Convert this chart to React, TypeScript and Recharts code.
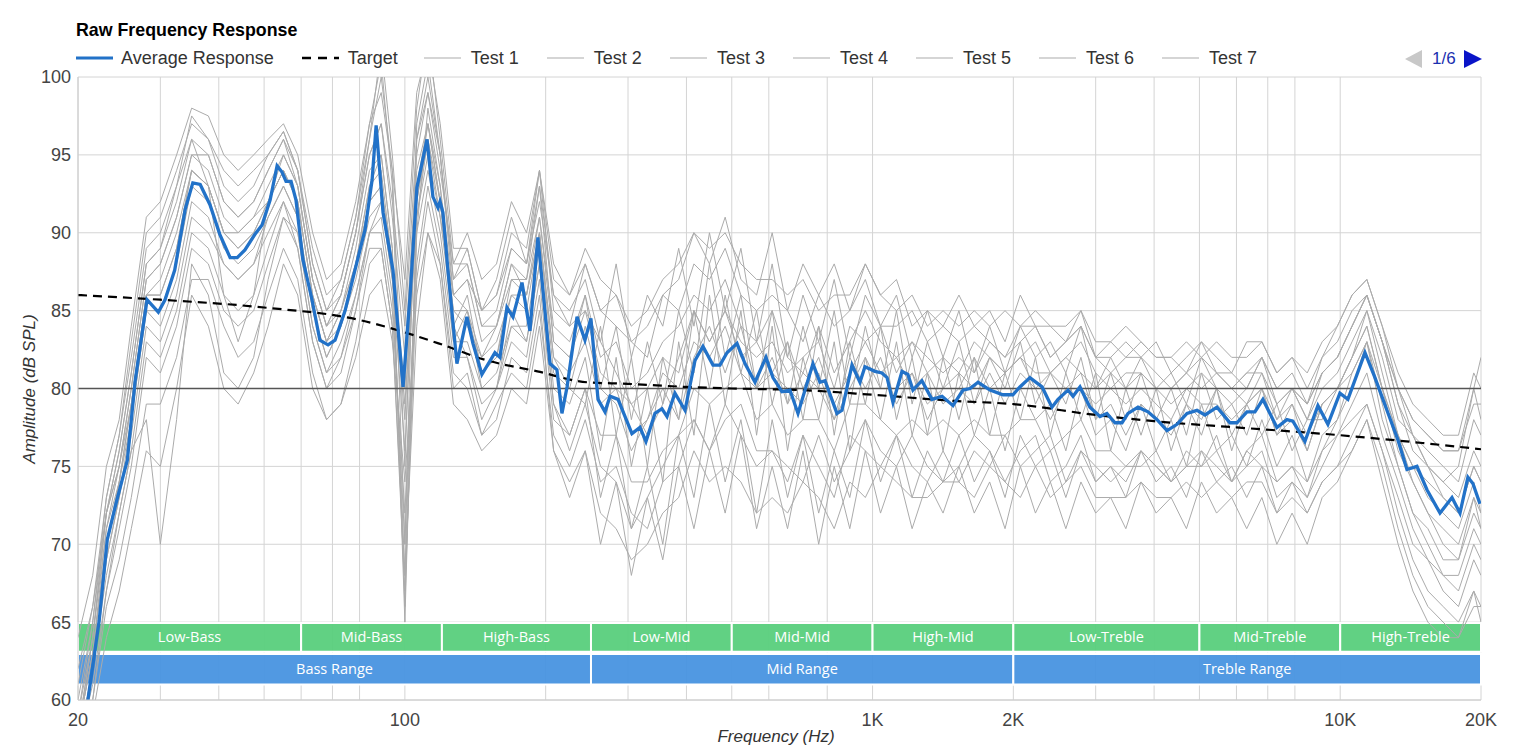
import React from "react";
import { LineChart, Line, XAxis, YAxis, CartesianGrid, ReferenceLine, ReferenceArea } from "recharts";

// shared frequency grid for the individual test runs (Hz)
const FREQS = [
  20, 21.5, 23, 24.5, 26, 28, 30, 32.5, 35, 38, 41, 44,
  47.5, 51, 55, 59, 63.5, 68, 73, 78.5, 84, 89, 94, 100,
  106, 112, 119, 127, 136, 146, 157, 169, 182, 194, 208, 225,
  243, 262, 283, 305, 330, 356, 385, 415, 448, 484, 523, 565,
  610, 658, 710, 767, 828, 894, 965, 1040, 1125, 1215, 1310, 1415,
  1530, 1650, 1780, 1920, 2070, 2230, 2400, 2590, 2790, 3000, 3230, 3480,
  3750, 4040, 4350, 4690, 5050, 5440, 5860, 6310, 6800, 7320, 7890, 8500,
  9150, 9860, 10600, 11400, 12300, 13300, 14300, 15400, 16600, 17900, 19300, 20000,
];

const TEST_1 = [
  59, 65, 73, 77, 82, 89, 90, 93, 97.5, 96, 93, 92,
  93, 95, 96.5, 94, 88, 85, 86, 90, 95, 97, 92, 84,
  96, 99, 95, 87, 88, 84, 84, 88, 86, 91, 84, 83,
  86, 82, 83, 80, 81, 83, 84, 86, 85, 87, 84, 83,
  85, 82, 81, 84, 81, 83, 85, 83, 82, 83, 81, 82,
  81, 83, 82, 81, 82, 83, 81, 82, 83, 81, 80, 81,
  81, 80, 79, 80, 81, 80, 79, 80, 82, 79, 80, 78,
  80, 81, 83, 85, 82, 78, 77, 75, 74, 73, 76, 75,
];
const TEST_2 = [
  56, 60, 66, 69, 73, 79, 79, 82, 87, 87, 84, 82,
  83, 86, 89, 87, 81, 78, 79, 82, 86, 87, 83, 74,
  86, 90, 88, 80, 81, 77, 79, 81, 80, 85, 77, 75,
  78, 74, 75, 72, 71, 74, 75, 78, 76, 78, 79, 76,
  76, 75, 74, 77, 74, 76, 78, 76, 75, 77, 75, 74,
  75, 77, 76, 74, 76, 77, 74, 75, 77, 74, 75, 74,
  76, 75, 74, 75, 76, 75, 74, 76, 75, 74, 75, 73,
  75, 77, 78, 79, 76, 73, 70, 69, 67, 66, 69, 68,
];
const TEST_3 = [
  58, 63, 70, 74, 79, 86, 86, 89, 94, 93, 90, 89,
  90, 92, 94, 92, 86, 83, 85, 88, 93, 94, 88, 78,
  93, 97, 92, 85, 84, 82, 83, 86, 85, 90, 82, 80,
  84, 80, 79, 76, 78, 80, 78, 82, 84, 81, 84, 80,
  82, 79, 81, 80, 78, 82, 80, 82, 79, 81, 78, 80,
  80, 79, 81, 79, 81, 80, 78, 80, 81, 78, 79, 77,
  79, 78, 77, 79, 78, 80, 77, 79, 80, 77, 78, 76,
  79, 80, 81, 83, 80, 77, 75, 73, 72, 71, 74, 72,
];
const TEST_4 = [
  58, 64, 72, 75, 80, 87, 88, 91, 95, 94, 91, 90,
  91, 93, 95, 93, 87, 84, 85, 89, 94, 95, 89, 66,
  90, 98, 93, 83, 85, 80, 80, 84, 83, 88, 79, 76,
  79, 75, 74, 71, 73, 75, 77, 78, 76, 79, 77, 75,
  76, 74, 77, 75, 73, 77, 76, 75, 77, 75, 74, 76,
  74, 76, 75, 77, 75, 76, 77, 74, 76, 75, 74, 75,
  75, 76, 74, 76, 75, 77, 74, 76, 77, 74, 75, 74,
  76, 78, 80, 83, 79, 75, 72, 70, 68, 68, 71, 70,
];
const TEST_5 = [
  57, 61, 67, 72, 76, 78, 70, 78, 88, 86, 81, 80,
  82, 87, 91, 90, 84, 81, 82, 85, 90, 92, 87, 79,
  91, 95, 91, 86, 87, 85, 86, 89, 88, 93, 86, 84,
  88, 85, 84, 83, 82, 86, 85, 88, 87, 89, 86, 85,
  86, 85, 83, 86, 84, 85, 87, 84, 84, 85, 83, 84,
  83, 84, 83, 82, 84, 84, 82, 83, 84, 82, 81, 82,
  82, 81, 80, 81, 82, 81, 80, 81, 82, 80, 80, 79,
  81, 82, 84, 86, 83, 79, 77, 76, 75, 74, 78, 77,
];
const TEST_6 = [
  64, 68, 75, 78, 84, 91, 92, 95, 98, 97.5, 95, 94,
  95, 96, 97, 95, 90, 87, 88, 92, 97, 99, 94, 87,
  99, 102, 97, 89, 89, 85, 86, 90, 89, 94, 85, 84,
  85, 83, 81, 79, 80, 82, 81, 85, 83, 85, 83, 82,
  83, 81, 82, 83, 80, 84, 83, 84, 81, 83, 82, 81,
  82, 81, 83, 82, 83, 84, 82, 83, 84, 82, 82, 83,
  82, 83, 81, 82, 83, 82, 81, 83, 83, 81, 82, 80,
  82, 83, 85, 86, 83, 80, 78, 77, 76, 76, 79, 79,
];
const TEST_7 = [
  57, 62, 68, 72, 76, 83, 82, 85, 90, 89, 86, 85,
  86, 89, 92, 89, 83, 80, 82, 86, 90, 90, 85, 72,
  88, 93, 89, 82, 82, 78, 80, 83, 82, 87, 78, 77,
  80, 77, 77, 74, 74, 76, 77, 80, 79, 80, 81, 78,
  79, 77, 78, 78, 76, 79, 79, 78, 77, 78, 77, 78,
  77, 78, 77, 77, 78, 78, 76, 77, 78, 76, 76, 75,
  76, 75, 74, 75, 75, 76, 74, 75, 76, 73, 74, 72,
  74, 75, 77, 79, 76, 72, 69, 67, 66, 65, 67, 66,
];
const TEST_8 = [
  58, 64, 71, 74, 78, 85, 85, 88, 93, 92, 89, 88,
  89, 91, 93, 91, 85, 82, 84, 87, 91, 92, 87, 76,
  92, 96, 91, 84, 86, 81, 82, 87, 87, 91, 83, 82,
  85, 81, 80, 79, 77, 79, 82, 85, 83, 85, 82, 83,
  81, 83, 80, 82, 79, 81, 83, 81, 82, 80, 81, 79,
  80, 82, 80, 81, 82, 80, 81, 80, 80, 79, 80, 79,
  80, 79, 78, 80, 79, 79, 78, 79, 80, 78, 79, 77,
  79, 80, 82, 84, 80, 77, 75, 74, 73, 72, 75, 74,
];
const TEST_9 = [
  56, 59, 64, 67, 71, 76, 75, 80, 86, 84, 80, 79,
  81, 84, 88, 86, 80, 78, 79, 83, 88, 89, 84, 68,
  84, 90, 87, 79, 78, 76, 77, 80, 79, 84, 76, 73,
  76, 72, 71, 69, 70, 72, 73, 76, 74, 75, 74, 72,
  73, 72, 74, 73, 71, 74, 73, 75, 74, 73, 73, 74,
  74, 73, 75, 74, 73, 75, 73, 74, 75, 73, 73, 73,
  74, 73, 73, 74, 73, 74, 73, 74, 74, 72, 73, 72,
  74, 75, 76, 78, 75, 71, 68, 66, 65, 64, 66, 66,
];
const TEST_10 = [
  62, 66, 72, 75, 80, 87, 88, 91, 95, 95, 92, 91,
  92, 94, 96, 93, 87, 84, 86, 90, 95, 97, 91, 82,
  95, 99, 94, 88, 90, 87, 88, 92, 90, 94, 88, 86,
  89, 87, 86, 84, 85, 87, 88, 90, 89, 90, 88, 87,
  87, 86, 87, 85, 86, 86, 88, 86, 85, 86, 84, 85,
  84, 85, 84, 85, 84, 85, 84, 84, 85, 83, 83, 84,
  83, 82, 82, 83, 82, 83, 82, 82, 83, 81, 82, 81,
  83, 84, 86, 87, 84, 81, 79, 78, 77, 77, 81, 80,
];
const TEST_11 = [
  57, 62, 69, 73, 77, 84, 83, 86, 91, 90, 88, 87,
  88, 90, 92, 90, 84, 81, 83, 86, 90, 91, 86, 70,
  90, 94, 90, 83, 83, 80, 81, 84, 84, 89, 80, 79,
  82, 76, 82, 75, 80, 74, 83, 77, 86, 79, 85, 77,
  84, 76, 82, 78, 83, 76, 82, 78, 83, 77, 81, 76,
  81, 77, 80, 76, 80, 78, 79, 76, 80, 77, 78, 76,
  79, 76, 78, 75, 79, 76, 77, 75, 78, 75, 77, 74,
  77, 78, 81, 83, 78, 75, 72, 71, 69, 69, 72, 71,
];
const TEST_12 = [
  58, 63, 71, 75, 79, 86, 87, 90, 94, 93, 90, 90,
  91, 92, 94, 92, 86, 83, 85, 88, 92, 93, 88, 80,
  94, 97, 93, 86, 85, 82, 84, 87, 86, 90, 82, 81,
  83, 79, 80, 77, 78, 81, 80, 83, 82, 84, 81, 80,
  81, 80, 79, 81, 78, 80, 82, 80, 80, 81, 79, 80,
  81, 80, 82, 81, 82, 81, 81, 82, 81, 80, 81, 80,
  81, 80, 80, 81, 80, 81, 80, 81, 81, 79, 80, 79,
  81, 82, 84, 86, 83, 79, 76, 75, 74, 75, 80, 78,
];
const TEST_13 = [
  60, 65, 72, 76, 81, 88, 89, 92, 96, 95, 92, 91,
  92, 94, 96, 94, 88, 85, 87, 91, 97, 101, 93, 70,
  97, 101, 95, 86, 87, 83, 84, 88, 87, 93, 83, 82,
  86, 80, 84, 78, 83, 79, 85, 81, 88, 82, 86, 80,
  85, 79, 84, 80, 85, 79, 84, 80, 85, 79, 83, 80,
  83, 79, 82, 80, 83, 79, 81, 79, 82, 78, 81, 78,
  81, 78, 80, 77, 81, 78, 79, 77, 80, 77, 79, 76,
  79, 80, 82, 85, 81, 77, 74, 72, 70, 69, 73, 71,
];
const TEST_14 = [
  57, 62, 69, 73, 78, 85, 84, 87, 92, 91, 88, 87,
  88, 91, 93, 91, 85, 82, 84, 88, 93, 95, 89, 65,
  92, 97, 92, 84, 82, 79, 80, 85, 83, 88, 79, 77,
  80, 73, 77, 71, 75, 70, 77, 73, 79, 74, 78, 72,
  78, 73, 77, 72, 76, 73, 78, 74, 77, 73, 76, 74,
  77, 74, 76, 73, 77, 75, 76, 73, 76, 74, 75, 73,
  76, 74, 75, 73, 76, 74, 75, 73, 75, 72, 74, 73,
  76, 77, 79, 81, 77, 74, 71, 69, 68, 67, 70, 69,
];
const TEST_15 = [
  59, 64, 72, 76, 81, 88, 89, 93, 96, 93, 86, 83,
  86, 92, 95, 93, 87, 84, 86, 90, 96, 100, 94, 75,
  96, 100, 95, 87, 89, 85, 87, 91, 88, 92, 86, 85,
  87, 83, 88, 82, 86, 84, 89, 84, 90, 85, 89, 83,
  88, 82, 86, 83, 87, 82, 86, 84, 86, 82, 85, 82,
  85, 81, 84, 81, 84, 82, 83, 81, 84, 80, 82, 80,
  82, 80, 81, 79, 82, 80, 80, 79, 81, 78, 80, 78,
  81, 82, 84, 86, 83, 80, 77, 75, 73, 72, 75, 74,
];
const TEST_16 = [
  58, 63, 70, 74, 79, 86, 86, 89, 94, 93, 90, 89,
  90, 92, 94, 92, 86, 83, 84, 88, 92, 93, 88, 68,
  91, 96, 92, 85, 85, 81, 82, 86, 86, 90, 81, 80,
  79, 84, 77, 82, 75, 82, 78, 85, 80, 86, 81, 85,
  79, 83, 78, 84, 77, 83, 79, 84, 78, 82, 77, 82,
  78, 82, 77, 81, 78, 82, 77, 81, 78, 81, 76, 80,
  77, 80, 76, 79, 77, 80, 76, 79, 77, 79, 76, 78,
  78, 80, 82, 84, 80, 76, 74, 72, 71, 70, 73, 72,
];
const TEST_17 = [
  56, 60, 67, 71, 75, 82, 81, 84, 89, 88, 85, 84,
  85, 88, 91, 89, 83, 80, 81, 85, 89, 89, 84, 67,
  87, 92, 88, 81, 80, 77, 78, 82, 81, 86, 76, 74,
  76, 70, 74, 68, 73, 69, 75, 71, 76, 72, 77, 71,
  75, 71, 76, 70, 75, 71, 76, 72, 75, 71, 74, 72,
  75, 72, 74, 71, 75, 72, 74, 71, 74, 72, 73, 71,
  74, 72, 73, 71, 74, 72, 73, 71, 73, 70, 72, 70,
  73, 74, 76, 78, 74, 70, 67, 65, 64, 64, 67, 65,
];
const TEST_18 = [
  61, 66, 73, 77, 83, 90, 91, 94, 97, 96, 94, 93,
  94, 95, 96.5, 94, 89, 86, 87, 91, 96, 102, 95, 85,
  98, 103, 96, 88, 88, 84, 85, 89, 88, 94, 87, 86,
  88, 85, 86, 83, 84, 86, 87, 90, 88, 91, 87, 86,
  90, 85, 88, 86, 88, 85, 88, 86, 87, 84, 85, 84,
  86, 84, 85, 83, 86, 84, 84, 83, 85, 82, 83, 82,
  83, 82, 82, 81, 83, 81, 81, 80, 82, 80, 81, 79,
  82, 84, 86, 87, 84, 80, 78, 77, 76, 76, 80, 82,
];
const TESTS = [
  TEST_1, TEST_2, TEST_3, TEST_4, TEST_5, TEST_6, TEST_7, TEST_8, TEST_9,
  TEST_10, TEST_11, TEST_12, TEST_13, TEST_14, TEST_15, TEST_16, TEST_17, TEST_18,
];

// average response, read point by point
const AVG_FREQS = [
  20, 21, 22.2, 23.1, 24.2, 25.5, 26.5, 28.1, 29.7, 30.7, 32.2, 33.9, 35.2, 36.5, 38.3, 40.2, 42.3, 43.8, 45.5, 47.8,
  49.5, 51.5, 53.3, 54.6, 55.7, 57.1, 58.5, 60.5, 63.3, 65.8, 68.5, 70.9, 74.5, 78.2, 82.2, 85.1, 86.8, 89.8, 94.3, 99.1,
  102.6, 106.1, 111.5, 114.8, 117.7, 118.9, 120.6, 123.6, 129.2, 135.7, 139.8, 146.1, 155.8, 159.7, 165.3, 170.2, 178, 185.1, 192.5, 204.3,
  211.4, 216.7, 222.2, 233.4, 242.7, 249.9, 258.8, 267.9, 274.6, 285.6, 305.9, 318.2, 327.7, 342.6, 354.6, 363.5, 378, 397.2, 417.2, 433.9,
  455.9, 471.8, 488.4, 513, 533.6, 560.6, 591.6, 612.4, 640.1, 665.8, 692.8, 745.7, 771.8, 791.2, 839.3, 860.2, 903.6, 939.8, 963.3, 1012,
  1047, 1074, 1106, 1156, 1190, 1220, 1275, 1340, 1408, 1486, 1561, 1616, 1681, 1783, 1900, 1996, 2066, 2170, 2304, 2419,
  2492, 2618, 2683, 2777, 2916, 3064, 3171, 3299, 3415, 3518, 3695, 3882, 4058, 4263, 4477, 4703, 4940, 5138, 5451, 5810,
  6014, 6318, 6571, 6835, 7322, 7691, 7921, 8404, 8960, 9412, 9984, 10386, 11296, 11866, 12586, 13286, 13889, 14590, 15328, 16345,
  17338, 18033, 18752, 19218, 19894,
];
const AVG_DB = [
  55.5, 60, 65.1, 70.3, 72.8, 75.4, 80.5, 85.7, 84.9, 85.7, 87.6, 91.5, 93.2, 93.1, 91.8, 89.9, 88.4, 88.4, 88.9, 89.9,
  90.5, 92.1, 94.3, 93.9, 93.3, 93.3, 92.1, 88.3, 85.7, 83.1, 82.8, 83.1, 85, 87.6, 90.2, 93.4, 96.9, 91.3, 87.6, 80.1,
  86, 92.9, 96, 92.3, 91.6, 92, 91.3, 87.6, 81.6, 84.6, 82.9, 80.9, 82.3, 82, 85.2, 84.6, 86.8, 83.7, 89.7, 81.6,
  81.2, 78.4, 80.1, 84.6, 83.1, 84.5, 79.3, 78.5, 79.5, 79.3, 77.1, 77.5, 76.6, 78.4, 78.7, 78.2, 79.7, 78.6, 81.8, 82.7,
  81.5, 81.5, 82.3, 82.9, 81.6, 80.4, 82, 80.7, 79.8, 79.9, 78.4, 81.6, 80.4, 80.5, 78.4, 78.6, 81.5, 80.4, 81.4, 81.1,
  81, 80.7, 79.1, 81.1, 80.9, 79.9, 80.5, 79.3, 79.5, 78.9, 79.9, 80, 80.4, 79.9, 79.6, 79.6, 80.1, 80.7, 80.1, 78.8,
  79.3, 79.9, 79.5, 80.1, 78.8, 78.2, 78.4, 77.8, 77.8, 78.4, 78.8, 78.5, 78, 77.3, 77.7, 78.4, 78.6, 78.3, 78.8, 77.8,
  77.8, 78.5, 78.5, 79.3, 77.5, 78, 77.9, 76.6, 78.9, 77.7, 79.7, 79.3, 82.3, 80.7, 78.6, 76.7, 74.8, 75, 73.5, 72,
  73, 72, 74.3, 73.9, 72.6,
];

const TARGET_FREQS = [20, 30, 50, 80, 100, 118, 150, 192, 245, 300, 400, 500, 700, 1000, 1500, 2000, 3000, 4000, 6000, 10000, 15000, 20000];
const TARGET_DB = [86, 85.7, 85.2, 84.4, 83.6, 82.9, 81.8, 81.1, 80.4, 80.3, 80.1, 80, 79.9, 79.6, 79.2, 79, 78.3, 77.9, 77.5, 77, 76.5, 76.1];

const X_TICKS = [20, 100, 1000, 2000, 10000, 20000];
const Y_TICKS = [60, 65, 70, 75, 80, 85, 90, 95, 100];
const GRID_FREQS = [20, 30, 40, 50, 60, 70, 80, 90, 100, 200, 300, 400, 500, 600, 700, 800, 900, 1000,
  2000, 3000, 4000, 5000, 6000, 7000, 8000, 9000, 10000, 20000];

const BAND_NAMES = ["Low-Bass", "Mid-Bass", "High-Bass", "Low-Mid", "Mid-Mid", "High-Mid", "Low-Treble", "Mid-Treble", "High-Treble"];
const BAND_EDGES = [20, 60, 120, 250, 500, 1000, 2000, 5000, 10000, 20000];
const RANGE_NAMES = ["Bass Range", "Mid Range", "Treble Range"];
const RANGE_EDGES = [20, 250, 2000, 20000];

const LEGEND_TESTS = ["Test 1", "Test 2", "Test 3", "Test 4", "Test 5", "Test 6", "Test 7"];

const BLUE = "#2272c8";
const GREY = "#ababab";
const FONT = "'Liberation Sans', Arial, sans-serif";

const fmtHz = (v: number) => (v >= 1000 ? `${v / 1000}K` : `${v}`);

function Legend() {
  return (
    <div style={{ position: "absolute", left: 76, top: 47, height: 22, display: "flex", alignItems: "center", fontFamily: FONT, fontSize: 18, color: "#333", whiteSpace: "nowrap" }}>
      <svg width={37} height={6}><line x1={0} y1={3} x2={37} y2={3} stroke={BLUE} strokeWidth={3} /></svg>
      <span style={{ marginLeft: 8, marginRight: 28 }}>Average Response</span>
      <svg width={37} height={6}><line x1={0} y1={3} x2={37} y2={3} stroke="#000" strokeWidth={2.5} strokeDasharray="9 7" /></svg>
      <span style={{ marginLeft: 9, marginRight: 26 }}>Target</span>
      {LEGEND_TESTS.map((t) => (
        <React.Fragment key={t}>
          <svg width={37} height={6}><line x1={0} y1={3} x2={37} y2={3} stroke={GREY} strokeWidth={1} /></svg>
          <span style={{ marginLeft: 10, marginRight: 28 }}>{t}</span>
        </React.Fragment>
      ))}
    </div>
  );
}

export default function App() {
  const avgData = AVG_FREQS.map((f, i) => ({ f, v: AVG_DB[i] }));
  const targetData = TARGET_FREQS.map((f, i) => ({ f, v: TARGET_DB[i] }));
  const testData = TESTS.map((t) => FREQS.map((f, i) => ({ f, v: t[i] })));

  return (
    <div style={{ position: "absolute", left: 0, top: 0, width: 1515, height: 746, background: "#fff", overflow: "hidden" }}>
      <div style={{ position: "absolute", left: 76, top: 20, fontFamily: FONT, fontWeight: 700, fontSize: 17.8, color: "#000" }}>
        Raw Frequency Response
      </div>
      <Legend />
      <div style={{ position: "absolute", left: 1405, top: 49, display: "flex", alignItems: "center", fontFamily: FONT, fontSize: 17 }}>
        <svg width={17} height={18}><polygon points="17,0 17,18 0,9" fill="#c8c8c8" /></svg>
        <span style={{ color: "#1a2fb0", margin: "0 8px 0 10px" }}>1/6</span>
        <svg width={18} height={18}><polygon points="0,0 0,18 18,9" fill="#0a14c8" /></svg>
      </div>
      <div style={{ position: "absolute", left: 30, top: 389, transform: "translate(-50%, -50%) rotate(-90deg)", fontFamily: FONT, fontStyle: "italic", fontSize: 17, color: "#333", whiteSpace: "nowrap" }}>
        Amplitude (dB SPL)
      </div>
      <div style={{ position: "absolute", left: 776, top: 728, lineHeight: "17px", transform: "translateX(-50%)", fontFamily: FONT, fontStyle: "italic", fontSize: 17, color: "#333", whiteSpace: "nowrap" }}>
        Frequency (Hz)
      </div>
      <div style={{ position: "absolute", left: 0, top: 0 }}>
        <LineChart width={1515} height={746} margin={{ top: 77, right: 34, bottom: 0, left: 28 }}>
          <CartesianGrid stroke="#d4d4d4" verticalValues={GRID_FREQS} horizontalValues={Y_TICKS} />
          <XAxis
            dataKey="f"
            type="number"
            scale="log"
            domain={[20, 20000]}
            ticks={X_TICKS}
            tickFormatter={fmtHz}
            allowDataOverflow
            height={46}
            tickLine={false}
            tickSize={0}
            tickMargin={13}
            axisLine={{ stroke: "#cccccc" }}
            tick={{ fill: "#444", fontSize: 18, fontFamily: FONT }}
          />
          <YAxis
            type="number"
            domain={[60, 100]}
            ticks={Y_TICKS}
            allowDataOverflow
            width={50}
            tickLine={false}
            tickSize={0}
            tickMargin={7}
            axisLine={{ stroke: "#cccccc" }}
            tick={{ fill: "#444", fontSize: 18, fontFamily: FONT }}
          />
          {testData.map((d, i) => (
            <Line key={`t${i}`} data={d} dataKey="v" type="linear" stroke={GREY} strokeWidth={1} dot={false} isAnimationActive={false} />
          ))}
          <ReferenceLine y={80} stroke="#555" strokeWidth={1.5} />
          <Line data={targetData} dataKey="v" type="monotone" stroke="#000" strokeWidth={2.2} strokeDasharray="9 6" dot={false} isAnimationActive={false} />
          <Line data={avgData} dataKey="v" type="linear" stroke={BLUE} strokeWidth={3.3} dot={false} isAnimationActive={false} />
          {BAND_NAMES.map((n, i) => (
            <ReferenceArea
              key={n}
              x1={BAND_EDGES[i]}
              x2={BAND_EDGES[i + 1]}
              y1={63.1}
              y2={64.95}
              fill="#58cf7c"
              fillOpacity={0.95}
              stroke="#fff"
              strokeWidth={2}
              label={{ value: n, position: "center", fill: "#fff", fontSize: 14.5, fontFamily: "'Open Sans', sans-serif" }}
            />
          ))}
          {RANGE_NAMES.map((n, i) => (
            <ReferenceArea
              key={n}
              x1={RANGE_EDGES[i]}
              x2={RANGE_EDGES[i + 1]}
              y1={61}
              y2={62.95}
              fill="#4893e0"
              fillOpacity={0.95}
              stroke="#fff"
              strokeWidth={2}
              label={{ value: n, position: "center", fill: "#fff", fontSize: 14.5, fontFamily: "'Open Sans', sans-serif" }}
            />
          ))}
        </LineChart>
      </div>
    </div>
  );
}
